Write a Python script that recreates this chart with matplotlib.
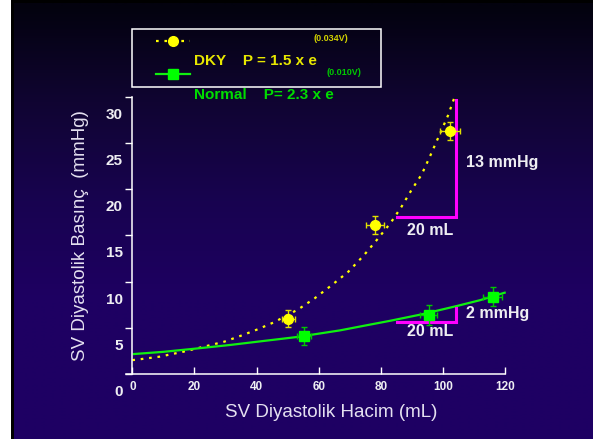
import numpy as np
import matplotlib
matplotlib.use("Agg")
import matplotlib.pyplot as plt
import matplotlib.transforms as mtransforms
from matplotlib.lines import Line2D
from matplotlib.patches import Rectangle

plt.rcParams['font.family'] = ['Liberation Sans', 'DejaVu Sans']

# ---------------------------------------------------------
# data
# ---------------------------------------------------------
dky_v = [50.2, 78.0, 102.2]
dky_p = [6.0, 16.1, 26.3]
dky_verr = [2.1, 2.9, 3.3]
dky_perr = [0.95, 1.0, 1.0]

normal_v = [55.2, 95.3, 115.9]
normal_p = [4.1, 6.4, 8.37]
normal_verr = [2.3, 2.7, 3.0]
normal_perr = [1.0, 1.05, 1.0]

# fitted curves as drawn
dky_curve_v = [0, 3, 8.7, 16.4, 24.4, 29.6, 35, 40.3, 45.6, 53.4, 58.7, 64.1,
               69.5, 74.3, 78.9, 83.2, 86.6, 89.8, 93.1, 95.7, 101.6, 103.5]
dky_curve_p = [1.5, 1.62, 1.87, 2.41, 3.07, 3.5, 4.15, 4.83, 5.6, 7.0, 8.2, 9.6,
               11.07, 12.77, 14.6, 16.4, 18.1, 19.9, 21.6, 23.5, 28.0, 29.8]
normal_curve_v = [0.5, 10, 20.7, 31.4, 42.1, 52.9, 66.8, 75, 82.8, 93, 104.3, 112, 119.8]
normal_curve_p = [2.16, 2.4, 2.76, 3.14, 3.57, 4.0, 4.72, 5.25, 5.75, 6.45, 7.35, 8.0, 8.8]

# slope triangles (20 mL -> 13 mmHg / 2 mmHg)
tri_v = [85.2, 104.1]
dky_tri_p = [17.0, 29.65]
normal_tri_p = [5.63, 7.1]

x_ticks = [0, 20, 40, 60, 80, 100, 120]
y_ticks = [0, 5, 10, 15, 20, 25, 30]

W, H = 596, 441
YELLOW = '#FFFF00'
GREEN = '#10F010'
MAGENTA = '#FF00FF'
WHITE = '#EEEEF2'


def fx(px):
    return px / W


def fy(py):
    return 1 - py / H


fig = plt.figure(figsize=(W / 100, H / 100), dpi=100, facecolor='white')

# ---------------------------------------------------------
# slide background (black frame + vertical gradient)
# ---------------------------------------------------------
bg = fig.add_axes([0, 0, 1, 1])
bg.axis('off')
bg.add_patch(Rectangle((11, 0), 582, 439, facecolor='black', edgecolor='none', zorder=1))
rows = np.arange(H)
stops_y = [3, 100, 200, 300, 441]
r = np.interp(rows, stops_y, [3, 16, 24, 30, 30])
g = np.interp(rows, stops_y, [2, 5, 3, 0, 0])
b = np.interp(rows, stops_y, [14, 50, 80, 98, 100])
grad = np.stack([r, g, b], axis=1)[:, None, :] / 255.0
bg.imshow(grad, extent=(14, 593, 439, 3), aspect='auto',
          interpolation='bilinear', zorder=2)
bg.set_xlim(0, W)
bg.set_ylim(H, 0)

# ---------------------------------------------------------
# main axes
# ---------------------------------------------------------
ax = fig.add_axes([fx(126.1), fy(374), fx(505.3) - fx(126.1), (374 - 96.8) / H])
ax.patch.set_alpha(0)
ax.set_xlim(-2, 120)
ax.set_ylim(0, 30)
for s in ['top', 'right']:
    ax.spines[s].set_visible(False)
ax.spines['left'].set_position(('data', 0))
ax.spines['left'].set_color('white')
ax.spines['bottom'].set_color('white')
ax.spines['left'].set_linewidth(1.1)
ax.spines['bottom'].set_linewidth(1.1)

ax.set_xticks(x_ticks)
ax.set_yticks(y_ticks)
ax.tick_params(axis='x', direction='in', length=5, width=1, color='white',
               pad=5, labelsize=8.5, labelcolor=WHITE)
ax.tick_params(axis='y', direction='out', length=5, width=1, color='white',
               pad=2, labelsize=11, labelcolor=WHITE)
for lab in ax.get_xticklabels() + ax.get_yticklabels():
    lab.set_fontweight('bold')
# y labels sit below their ticks in the original slide
shift = mtransforms.ScaledTranslation(0, -0.165, fig.dpi_scale_trans)
for lab in ax.get_yticklabels():
    lab.set_transform(lab.get_transform() + shift)

ax.set_xlabel('SV Diyastolik Hacim (mL)', fontsize=13.5, color='#E4E0F0')
ax.xaxis.set_label_coords(0.54, -0.108)
ax.set_ylabel('SV Diyastolik Basınç  (mmHg)', fontsize=13.5, color='#E4E0F0')
ax.yaxis.set_label_coords(-0.098, 0.5)

# curves
ax.plot(dky_curve_v, dky_curve_p, color=YELLOW, lw=1.6,
        linestyle=(0, (1.2, 2.6)), clip_on=False)
ax.plot(normal_curve_v, normal_curve_p, color=GREEN, lw=1.6, clip_on=False)

# slope triangles
ax.plot([tri_v[0], tri_v[1], tri_v[1]], [dky_tri_p[0], dky_tri_p[0], dky_tri_p[1]],
        color=MAGENTA, lw=2.2, solid_joinstyle='miter', clip_on=False)
ax.plot([tri_v[0], tri_v[1], tri_v[1]], [normal_tri_p[0], normal_tri_p[0], normal_tri_p[1]],
        color=MAGENTA, lw=2.2, solid_joinstyle='miter', clip_on=False)

# data points
ax.errorbar(dky_v, dky_p, xerr=dky_verr, yerr=dky_perr, fmt='o', color=YELLOW,
            ecolor='#E0E000', elinewidth=1, capsize=2.5, markersize=7, clip_on=False)
ax.errorbar(normal_v, normal_p, xerr=normal_verr, yerr=normal_perr, fmt='s',
            color='#00FF00', ecolor='#00C800', elinewidth=1, capsize=2.5,
            markersize=7.5, clip_on=False)

# annotations
ann = dict(color=WHITE, fontsize=11.5, fontweight='bold', ha='center', va='center')
ax.text(118.9, 22.9, '13 mmHg', **ann)
ax.text(95.9, 15.5, '20 mL', **ann)
ax.text(117.4, 6.5, '2 mmHg', **ann)
ax.text(95.9, 4.55, '20 mL', **ann)

# ---------------------------------------------------------
# legend box drawn like the slide
# ---------------------------------------------------------
fig.add_artist(Rectangle((fx(132.3), fy(86.7)), fx(381) - fx(132.3), (86.7 - 29.3) / H,
                         transform=fig.transFigure, facecolor='none',
                         edgecolor='white', lw=1.1))
fig.add_artist(Line2D([fx(156), fx(190)], [fy(40.7), fy(40.7)], transform=fig.transFigure,
                      color=YELLOW, lw=1.6, linestyle=(0, (1.2, 2.6))))
fig.add_artist(Line2D([fx(172.7)], [fy(40.7)], transform=fig.transFigure,
                      color=YELLOW, marker='o', markersize=7, linestyle='none'))
fig.add_artist(Line2D([fx(156), fx(190)], [fy(74), fy(74)], transform=fig.transFigure,
                      color=GREEN, lw=1.6))
fig.add_artist(Line2D([fx(172.7)], [fy(74)], transform=fig.transFigure,
                      color='#00FF00', marker='s', markersize=7.5, linestyle='none'))

fig.text(fx(194), fy(60.7), 'DKY    P = 1.5 x e', color='#E8E800', fontsize=11,
         fontweight='bold', va='center', ha='left')
fig.text(fx(313.3), fy(38.3), '(0.034V)', color='#D0D000', fontsize=6.5,
         fontweight='bold', va='center', ha='left')
fig.text(fx(194), fy(95), 'Normal    P= 2.3 x e', color='#00DC00', fontsize=11,
         fontweight='bold', va='center', ha='left')
fig.text(fx(326.7), fy(72.3), '(0.010V)', color='#00C800', fontsize=6.5,
         fontweight='bold', va='center', ha='left')

fig.savefig('out.png', dpi=100, facecolor=fig.get_facecolor())
